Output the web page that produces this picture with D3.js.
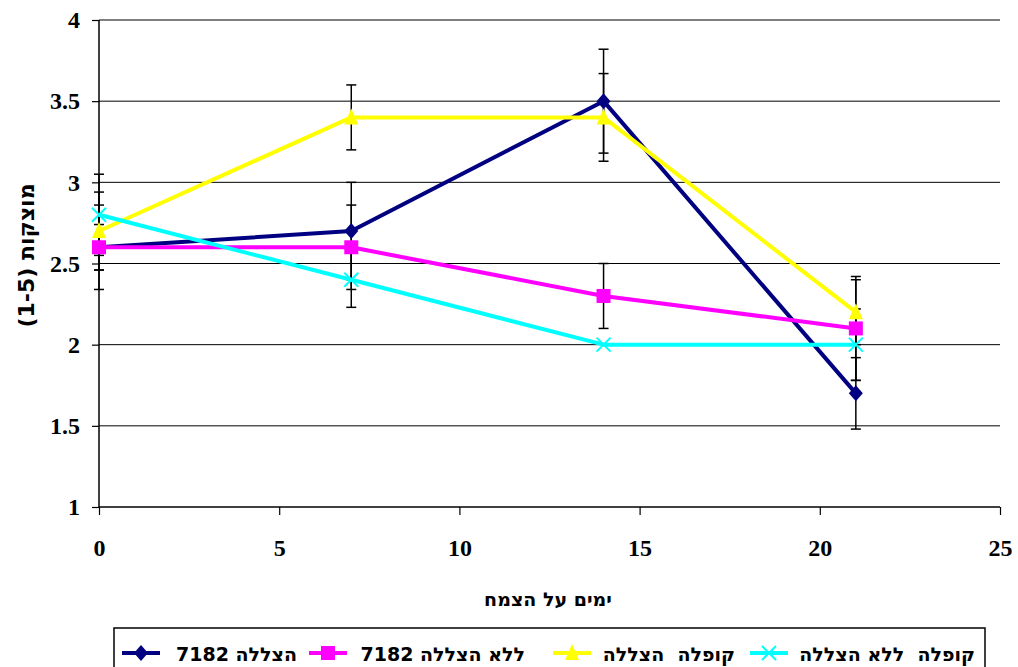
<!DOCTYPE html>
<html><head><meta charset="utf-8">
<script src="https://cdn.jsdelivr.net/npm/d3@7"></script>
<style>
body{margin:0;background:#fff;}
svg{display:block;font-family:"Liberation Serif","Times New Roman",serif;font-weight:bold;}
.heb{font-family:"DejaVu Sans",sans-serif;font-weight:bold;}
.leg{white-space:pre;}
</style></head>
<body><svg id="c" width="1018" height="667"></svg>
<script>
const days = [0, 7, 14, 21];
const seriesNames = ["הצללה 7182", "ללא הצללה 7182", "קופלה  הצללה", "קופלה  ללא הצללה"];
const v7182Shade = [2.6, 2.7, 3.5, 1.7];
const e7182Shade = [0.26, 0.3, 0.32, 0.22];
const v7182NoShade = [2.6, 2.6, 2.3, 2.1];
const e7182NoShade = [0.14, 0.26, 0.2, 0.32];
const vKuplaShade = [2.7, 3.4, 3.4, 2.2];
const eKuplaShade = [0.24, 0.2, 0.27, 0.2];
const vKuplaNoShade = [2.8, 2.4, 2.0, 2.0];
const eKuplaNoShade = [0.25, 0.17, 0, 0.22];
const xTicks = [0, 5, 10, 15, 20, 25];
const yTicks = [1, 1.5, 2, 2.5, 3, 3.5, 4];
const xTitle = "ימים על הצמח";
const yTitle = "מוצקות (1-5)";

const colors = ["#000080", "#FF00FF", "#FFFF00", "#00FFFF"];
const shapes = ["diamond", "square", "triangle", "x"];
const values = [v7182Shade, v7182NoShade, vKuplaShade, vKuplaNoShade];
const errors = [e7182Shade, e7182NoShade, eKuplaShade, eKuplaNoShade];

const svg = d3.select("#c");
const x = d3.scaleLinear().domain([0, 25]).range([99, 1000]);
const y = d3.scaleLinear().domain([1, 4]).range([507, 20]);

// gridlines
svg.append("g").selectAll("line").data(yTicks.filter(t => t > 1)).join("line")
  .attr("x1", x(0)).attr("x2", x(25)).attr("y1", d => y(d)).attr("y2", d => y(d))
  .attr("stroke", "#000").attr("stroke-width", 1);

// axes
const xAxis = svg.append("g").attr("transform", `translate(0,${y(1)})`)
  .call(d3.axisBottom(x).tickValues(xTicks).tickSize(8).tickPadding(24).tickFormat(d3.format("d")));
const yAxis = svg.append("g").attr("transform", `translate(${x(0)},0)`)
  .call(d3.axisLeft(y).tickValues(yTicks).tickSize(7).tickPadding(12).tickFormat(d => d));
[xAxis, yAxis].forEach(a => {
  a.select(".domain").attr("stroke", "#000").attr("stroke-width", 1.5);
  a.selectAll(".tick line").attr("stroke", "#000").attr("stroke-width", 1.2);
  a.selectAll("text").attr("fill", "#000").attr("font-size", 24)
    .attr("font-family", "Liberation Serif").attr("font-weight", "bold");
});
xAxis.select(".domain").attr("d", `M${x(0)},0H${x(25)}`);
yAxis.select(".domain").attr("d", `M0,${y(4)}V${y(1)}`);

// titles
svg.append("text").attr("class", "heb").attr("x", 548).attr("y", 606).attr("text-anchor", "middle")
  .attr("font-size", 19).attr("direction", "rtl").style("unicode-bidi", "embed").text(xTitle);
svg.append("text").attr("class", "heb").attr("transform", `translate(34,${(y(1) + y(4)) / 2 - 8}) rotate(-90)`)
  .attr("text-anchor", "middle").attr("font-size", 22).attr("direction", "rtl")
  .style("unicode-bidi", "embed").text(yTitle);

function marker(g, shape, color, cx, cy) {
  const s = 7;
  if (shape === "diamond") {
    g.append("path").attr("d", `M${cx},${cy - s - 1}L${cx + s},${cy}L${cx},${cy + s + 1}L${cx - s},${cy}Z`).attr("fill", color);
  } else if (shape === "square") {
    g.append("rect").attr("x", cx - s).attr("y", cy - s).attr("width", 2 * s).attr("height", 2 * s).attr("fill", color);
  } else if (shape === "triangle") {
    g.append("path").attr("d", `M${cx},${cy - s - 2}L${cx + s},${cy + s}L${cx - s},${cy + s}Z`).attr("fill", color);
  } else {
    g.append("path").attr("d", `M${cx - s},${cy - s}L${cx + s},${cy + s}M${cx - s},${cy + s}L${cx + s},${cy - s}`)
      .attr("stroke", color).attr("stroke-width", 2);
  }
}

const line = d3.line().x((d, i) => x(days[i])).y(d => y(d));

// error bars
values.forEach((vals, si) => {
  const g = svg.append("g");
  vals.forEach((v, i) => {
    const e = errors[si][i];
    if (!e) return;
    const cx = x(days[i]);
    g.append("line").attr("x1", cx).attr("x2", cx).attr("y1", y(v + e)).attr("y2", y(v - e))
      .attr("stroke", "#000").attr("stroke-width", 1.5);
    [v + e, v - e].forEach(t => g.append("line").attr("x1", cx - 5).attr("x2", cx + 5)
      .attr("y1", y(t)).attr("y2", y(t)).attr("stroke", "#000").attr("stroke-width", 1.5));
  });
});

// series
values.forEach((vals, si) => {
  const g = svg.append("g");
  g.append("path").datum(vals).attr("d", line).attr("fill", "none")
    .attr("stroke", colors[si]).attr("stroke-width", 4).attr("stroke-linejoin", "round");
  vals.forEach((v, i) => marker(g, shapes[si], colors[si], x(days[i]), y(v)));
});

// legend
const lg = svg.append("g");
lg.append("rect").attr("x", 114).attr("y", 628).attr("width", 871).attr("height", 50)
  .attr("fill", "#fff").attr("stroke", "#000").attr("stroke-width", 1.5);
const legX = [122, 309, 553, 750];
const legEnd = [297, 525, 735, 975];
seriesNames.forEach((n, si) => {
  const lx = legX[si], ly = 653;
  lg.append("line").attr("x1", lx).attr("x2", lx + 38).attr("y1", ly).attr("y2", ly)
    .attr("stroke", colors[si]).attr("stroke-width", 4);
  marker(lg, shapes[si], colors[si], lx + 19, ly);
  lg.append("text").attr("class", "heb leg").attr("x", legEnd[si]).attr("y", ly + 8)
    .attr("text-anchor", "end").attr("font-size", 19).text(n);
});
</script></body></html>
